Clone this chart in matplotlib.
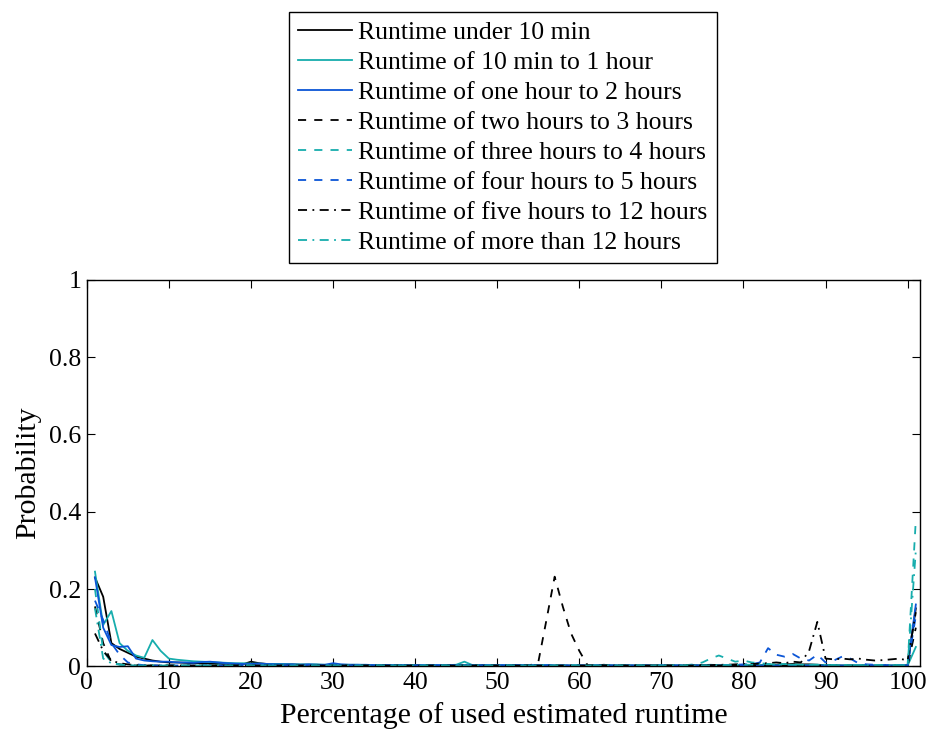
import numpy as np
import matplotlib
matplotlib.use("Agg")
import matplotlib.pyplot as plt

plt.rcParams["font.family"] = ["Liberation Serif", "DejaVu Serif"]

# percentage of used estimated runtime (bins 1..101)
pct = np.arange(1, 102)

under_10min = [
    0.23, 0.18, 0.06, 0.045, 0.035, 0.025, 0.02, 0.015, 0.012, 0.01,
    0.01, 0.009, 0.008, 0.008, 0.007, 0.007, 0.006, 0.006, 0.005, 0.012,
    0.008, 0.006, 0.006, 0.005, 0.005, 0.004, 0.004, 0.004, 0.003, 0.003,
    0.003, 0.003, 0.003, 0.003, 0.003, 0.002, 0.002, 0.002, 0.002, 0.002,
    0.002, 0.002, 0.002, 0.002, 0.002, 0.002, 0.002, 0.002, 0.002, 0.002,
    0.002, 0.002, 0.002, 0.002, 0.002, 0.003, 0.002, 0.002, 0.002, 0.002,
    0.002, 0.002, 0.004, 0.002, 0.002, 0.002, 0.002, 0.002, 0.002, 0.002,
    0.002, 0.002, 0.002, 0.003, 0.002, 0.002, 0.002, 0.003, 0.003, 0.003,
    0.003, 0.003, 0.004, 0.004, 0.005, 0.006, 0.005, 0.005, 0.004, 0.003,
    0.003, 0.002, 0.002, 0.002, 0.002, 0.002, 0.002, 0.002, 0.002, 0.003,
    0.15,
]
min10_to_1h = [
    0.245, 0.107, 0.143, 0.06, 0.04, 0.028, 0.022, 0.068, 0.04, 0.02,
    0.017, 0.015, 0.013, 0.012, 0.011, 0.01, 0.009, 0.008, 0.008, 0.007,
    0.007, 0.006, 0.006, 0.006, 0.005, 0.005, 0.005, 0.005, 0.004, 0.004,
    0.004, 0.004, 0.004, 0.003, 0.003, 0.003, 0.003, 0.003, 0.003, 0.003,
    0.003, 0.003, 0.003, 0.003, 0.004, 0.012, 0.003, 0.003, 0.003, 0.003,
    0.003, 0.003, 0.003, 0.003, 0.003, 0.003, 0.002, 0.002, 0.002, 0.002,
    0.002, 0.002, 0.002, 0.002, 0.002, 0.002, 0.002, 0.002, 0.002, 0.002,
    0.002, 0.002, 0.002, 0.002, 0.003, 0.004, 0.003, 0.003, 0.004, 0.003,
    0.003, 0.003, 0.003, 0.003, 0.003, 0.003, 0.003, 0.003, 0.003, 0.003,
    0.002, 0.002, 0.002, 0.002, 0.002, 0.002, 0.002, 0.002, 0.002, 0.002,
    0.05,
]
h1_to_2h = [
    0.23, 0.1, 0.055, 0.05, 0.052, 0.02, 0.015, 0.013, 0.012, 0.012,
    0.01, 0.01, 0.009, 0.011, 0.012, 0.01, 0.008, 0.007, 0.006, 0.006,
    0.007, 0.006, 0.005, 0.005, 0.005, 0.004, 0.005, 0.004, 0.004, 0.008,
    0.005, 0.004, 0.004, 0.004, 0.003, 0.003, 0.003, 0.003, 0.003, 0.003,
    0.003, 0.003, 0.003, 0.003, 0.003, 0.003, 0.003, 0.003, 0.003, 0.003,
    0.003, 0.003, 0.003, 0.003, 0.003, 0.003, 0.002, 0.002, 0.002, 0.002,
    0.002, 0.002, 0.002, 0.002, 0.002, 0.002, 0.002, 0.002, 0.002, 0.002,
    0.002, 0.002, 0.002, 0.002, 0.002, 0.002, 0.002, 0.002, 0.002, 0.002,
    0.002, 0.002, 0.002, 0.002, 0.002, 0.002, 0.002, 0.002, 0.002, 0.002,
    0.002, 0.002, 0.002, 0.002, 0.002, 0.002, 0.002, 0.002, 0.002, 0.002,
    0.16,
]
h2_to_3h = [
    0.155, 0.06, 0.01, 0.005, 0.003, 0.002, 0.002, 0.002, 0.002, 0.002,
    0.002, 0.002, 0.002, 0.002, 0.002, 0.002, 0.002, 0.002, 0.002, 0.002,
    0.002, 0.002, 0.002, 0.002, 0.002, 0.002, 0.002, 0.002, 0.002, 0.002,
    0.002, 0.002, 0.002, 0.002, 0.002, 0.002, 0.002, 0.002, 0.002, 0.002,
    0.002, 0.002, 0.002, 0.002, 0.002, 0.002, 0.002, 0.002, 0.002, 0.002,
    0.002, 0.002, 0.002, 0.003, 0.01, 0.12, 0.232, 0.154, 0.085, 0.04,
    0.003, 0.002, 0.002, 0.002, 0.002, 0.002, 0.002, 0.002, 0.002, 0.002,
    0.002, 0.002, 0.002, 0.002, 0.002, 0.002, 0.002, 0.002, 0.002, 0.002,
    0.002, 0.002, 0.002, 0.002, 0.002, 0.002, 0.002, 0.002, 0.002, 0.002,
    0.002, 0.002, 0.002, 0.002, 0.002, 0.002, 0.002, 0.002, 0.002, 0.002,
    0.1,
]
h3_to_4h = [
    0.2, 0.04, 0.01, 0.005, 0.003, 0.002, 0.002, 0.002, 0.002, 0.002,
    0.002, 0.002, 0.002, 0.002, 0.002, 0.002, 0.002, 0.002, 0.002, 0.002,
    0.002, 0.002, 0.002, 0.002, 0.002, 0.002, 0.002, 0.002, 0.002, 0.002,
    0.002, 0.002, 0.002, 0.002, 0.002, 0.002, 0.002, 0.002, 0.002, 0.002,
    0.002, 0.002, 0.002, 0.002, 0.002, 0.002, 0.002, 0.002, 0.002, 0.002,
    0.002, 0.002, 0.002, 0.002, 0.002, 0.002, 0.002, 0.002, 0.002, 0.002,
    0.002, 0.002, 0.002, 0.002, 0.002, 0.002, 0.002, 0.002, 0.002, 0.002,
    0.002, 0.002, 0.003, 0.005, 0.01, 0.02, 0.028, 0.02, 0.012, 0.015,
    0.01, 0.008, 0.006, 0.005, 0.006, 0.005, 0.004, 0.004, 0.004, 0.003,
    0.003, 0.003, 0.003, 0.003, 0.003, 0.003, 0.003, 0.003, 0.003, 0.003,
    0.38,
]
h4_to_5h = [
    0.17, 0.12, 0.06, 0.03, 0.01, 0.005, 0.003, 0.002, 0.002, 0.002,
    0.002, 0.002, 0.002, 0.002, 0.002, 0.002, 0.002, 0.002, 0.002, 0.002,
    0.002, 0.002, 0.002, 0.002, 0.002, 0.002, 0.002, 0.002, 0.002, 0.002,
    0.002, 0.002, 0.002, 0.002, 0.002, 0.002, 0.002, 0.002, 0.002, 0.002,
    0.002, 0.002, 0.002, 0.002, 0.002, 0.002, 0.002, 0.002, 0.002, 0.002,
    0.002, 0.002, 0.002, 0.002, 0.002, 0.002, 0.002, 0.002, 0.002, 0.002,
    0.002, 0.002, 0.002, 0.002, 0.002, 0.002, 0.002, 0.002, 0.002, 0.002,
    0.002, 0.002, 0.002, 0.002, 0.002, 0.002, 0.002, 0.003, 0.004, 0.005,
    0.005, 0.01, 0.047, 0.03, 0.025, 0.032, 0.02, 0.015, 0.03, 0.01,
    0.015, 0.025, 0.02, 0.008, 0.005, 0.004, 0.003, 0.003, 0.003, 0.003,
    0.13,
]
h5_to_12h = [
    0.085, 0.04, 0.015, 0.008, 0.005, 0.003, 0.002, 0.002, 0.002, 0.002,
    0.002, 0.002, 0.002, 0.002, 0.002, 0.002, 0.002, 0.002, 0.002, 0.002,
    0.002, 0.002, 0.002, 0.002, 0.002, 0.002, 0.002, 0.002, 0.002, 0.002,
    0.002, 0.002, 0.002, 0.002, 0.002, 0.002, 0.002, 0.002, 0.002, 0.002,
    0.002, 0.002, 0.002, 0.002, 0.002, 0.002, 0.002, 0.002, 0.002, 0.002,
    0.002, 0.002, 0.002, 0.002, 0.002, 0.002, 0.002, 0.002, 0.002, 0.002,
    0.002, 0.002, 0.002, 0.002, 0.002, 0.002, 0.002, 0.002, 0.002, 0.002,
    0.002, 0.002, 0.002, 0.002, 0.003, 0.003, 0.004, 0.004, 0.005, 0.006,
    0.006, 0.007, 0.008, 0.01, 0.008, 0.012, 0.01, 0.04, 0.115, 0.02,
    0.018, 0.02, 0.018, 0.02, 0.017, 0.015, 0.016, 0.018, 0.02, 0.015,
    0.14,
]
over_12h = [
    0.15, 0.02, 0.008, 0.004, 0.003, 0.002, 0.002, 0.002, 0.002, 0.002,
    0.002, 0.002, 0.002, 0.002, 0.002, 0.002, 0.002, 0.002, 0.002, 0.002,
    0.002, 0.002, 0.002, 0.002, 0.002, 0.002, 0.002, 0.002, 0.002, 0.002,
    0.002, 0.002, 0.002, 0.002, 0.002, 0.002, 0.002, 0.002, 0.002, 0.002,
    0.002, 0.002, 0.002, 0.002, 0.002, 0.002, 0.002, 0.002, 0.002, 0.002,
    0.002, 0.002, 0.002, 0.002, 0.002, 0.002, 0.002, 0.002, 0.002, 0.002,
    0.002, 0.002, 0.002, 0.002, 0.002, 0.002, 0.002, 0.002, 0.002, 0.002,
    0.002, 0.002, 0.002, 0.002, 0.002, 0.002, 0.003, 0.003, 0.004, 0.004,
    0.004, 0.005, 0.005, 0.005, 0.004, 0.004, 0.004, 0.004, 0.004, 0.004,
    0.003, 0.003, 0.003, 0.003, 0.003, 0.003, 0.003, 0.003, 0.003, 0.003,
    0.3,
]

labels = [
    "Runtime under 10 min",
    "Runtime of 10 min to 1 hour",
    "Runtime of one hour to 2 hours",
    "Runtime of two hours to 3 hours",
    "Runtime of three hours to 4 hours",
    "Runtime of four hours to 5 hours",
    "Runtime of five hours to 12 hours",
    "Runtime of more than 12 hours",
]
series = [under_10min, min10_to_1h, h1_to_2h, h2_to_3h,
          h3_to_4h, h4_to_5h, h5_to_12h, over_12h]

teal = "#17adad"
blue = "#0b55d6"
colors = ["k", teal, blue, "k", teal, blue, "k", teal]
dashed = (0, (4.5, 4.5))
dashdot = (0, (5, 3, 1, 3))
styles = ["-", "-", "-", dashed, dashed, dashed, dashdot, dashdot]

fig = plt.figure(figsize=(9.33, 7.29), dpi=100)
ax = fig.add_axes([0.093, 0.086, 0.893, 0.53])

for vals, c, ls, lab in zip(series, colors, styles, labels):
    ax.plot(pct, vals, color=c, linestyle=ls, linewidth=1.3, label=lab)

ax.set_xlim(0, 101.5)
ax.set_ylim(0, 1)
ax.set_xticks(np.arange(0, 101, 10))
ax.set_yticks([0, 0.2, 0.4, 0.6, 0.8, 1])
ax.set_yticklabels(["0", "0.2", "0.4", "0.6", "0.8", "1"])
ax.tick_params(direction="in", length=6, width=0.8, top=True, right=True,
               labelsize=18.5, pad=4)
for sp in ax.spines.values():
    sp.set_linewidth(1.0)

ax.set_xlabel("Percentage of used estimated runtime", fontsize=21.5, labelpad=6)
ax.set_ylabel("Probability", fontsize=21.5, labelpad=6)

leg = ax.legend(loc="upper center", bbox_to_anchor=(0.539, 0.984),
                bbox_transform=fig.transFigure, fontsize=18.5,
                fancybox=False, edgecolor="k", framealpha=1,
                handlelength=2.1, handletextpad=0.25, labelspacing=0.275,
                borderpad=0.35, borderaxespad=0)
leg.get_frame().set_linewidth(1.0)

fig.savefig("out.png", dpi=100)
plt.close(fig)
